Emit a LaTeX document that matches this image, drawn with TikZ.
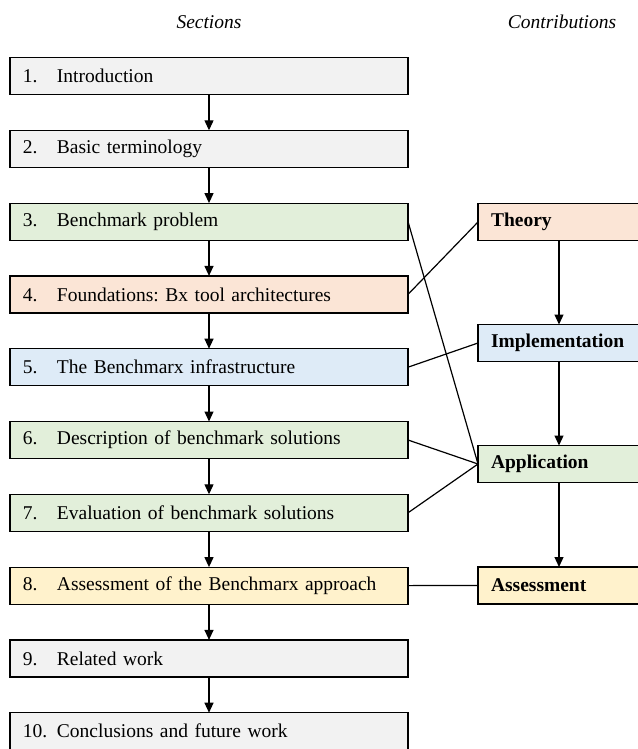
\documentclass[tikz,border=0pt]{standalone}
\usepackage{fontspec}
\setmainfont{Liberation Serif}
\usetikzlibrary{positioning,arrows.meta}
\definecolor{secgray}{HTML}{F2F2F2}
\definecolor{secgreen}{HTML}{E2EFDA}
\definecolor{secorange}{HTML}{FBE5D6}
\definecolor{secblue}{HTML}{DEEBF7}
\definecolor{secyellow}{HTML}{FFF2CC}
\newcommand\secnum[1]{\makebox[34pt][l]{#1}}

\begin{document}
\frenchspacing
\begin{tikzpicture}[x=1pt,y=-1pt,
    every node/.style={font=\fontsize{19.5}{23}\selectfont},
    section/.style={draw,line width=1.2pt,minimum height=37pt,outer sep=0pt,
      inner ysep=0pt,inner xsep=13pt,text width=372pt,align=left},
    contrib/.style={draw,line width=1.2pt,minimum height=37pt,outer sep=0pt,
      inner ysep=0pt,inner xsep=13pt,text width=136pt,align=left,
      font=\fontsize{19.5}{23}\selectfont\bfseries},
    flow/.style={line width=1.2pt,-{Triangle[length=10pt,width=9pt]}},
    link/.style={line width=1.2pt},
    node distance=35.8pt]
  \useasboundingbox (0,0) rectangle (637,749);

  % headings
  \node[font=\fontsize{19.5}{23}\selectfont\itshape] (hsec) at (209,22) {Sections};
  \node[font=\fontsize{19.5}{23}\selectfont\itshape] (hcon) at (562,22) {Contributions};

  % sections
  \node[section,fill=secgray] (s1) at (209,76) {\secnum{1.}Introduction};
  \node[section,fill=secgray,below=of s1] (s2) {\secnum{2.}Basic terminology};
  \node[section,fill=secgreen,below=of s2] (s3) {\secnum{3.}Benchmark problem};
  \node[section,fill=secorange,below=of s3] (s4) {\secnum{4.}Foundations: Bx tool architectures};
  \node[section,fill=secblue,below=of s4] (s5) {\secnum{5.}The Benchmarx infrastructure};
  \node[section,fill=secgreen,below=of s5] (s6) {\secnum{6.}Description of benchmark solutions};
  \node[section,fill=secgreen,below=of s6] (s7) {\secnum{7.}Evaluation of benchmark solutions};
  \node[section,fill=secyellow,below=of s7] (s8) {\secnum{8.}Assessment of the Benchmarx approach};
  \node[section,fill=secgray,below=of s8] (s9) {\secnum{9.}Related work};
  \node[section,fill=secgray,below=of s9] (s10) {\secnum{10.}Conclusions and future work};

  % contributions
  \node[contrib,fill=secorange] (theory) at (559,222) {Theory};
  \node[contrib,fill=secblue] (impl) at (559,343) {Implementation};
  \node[contrib,fill=secgreen] (appl) at (559,464) {Application};
  \node[contrib,fill=secyellow] (assess) at (559,585.5) {Assessment};

  \foreach \a/\b in {s1/s2,s2/s3,s3/s4,s4/s5,s5/s6,s6/s7,s7/s8,s8/s9,s9/s10,
                     theory/impl,impl/appl,appl/assess}
    \draw[flow] (\a) -- (\b);

  \draw[link] (s3.east) -- (appl.west);
  \draw[link] (s4.east) -- (theory.west);
  \draw[link] (s5.east) -- (impl.west);
  \draw[link] (s6.east) -- (appl.west);
  \draw[link] (s7.east) -- (appl.west);
  \draw[link] (s8.east) -- (assess.west);
\end{tikzpicture}
\end{document}
